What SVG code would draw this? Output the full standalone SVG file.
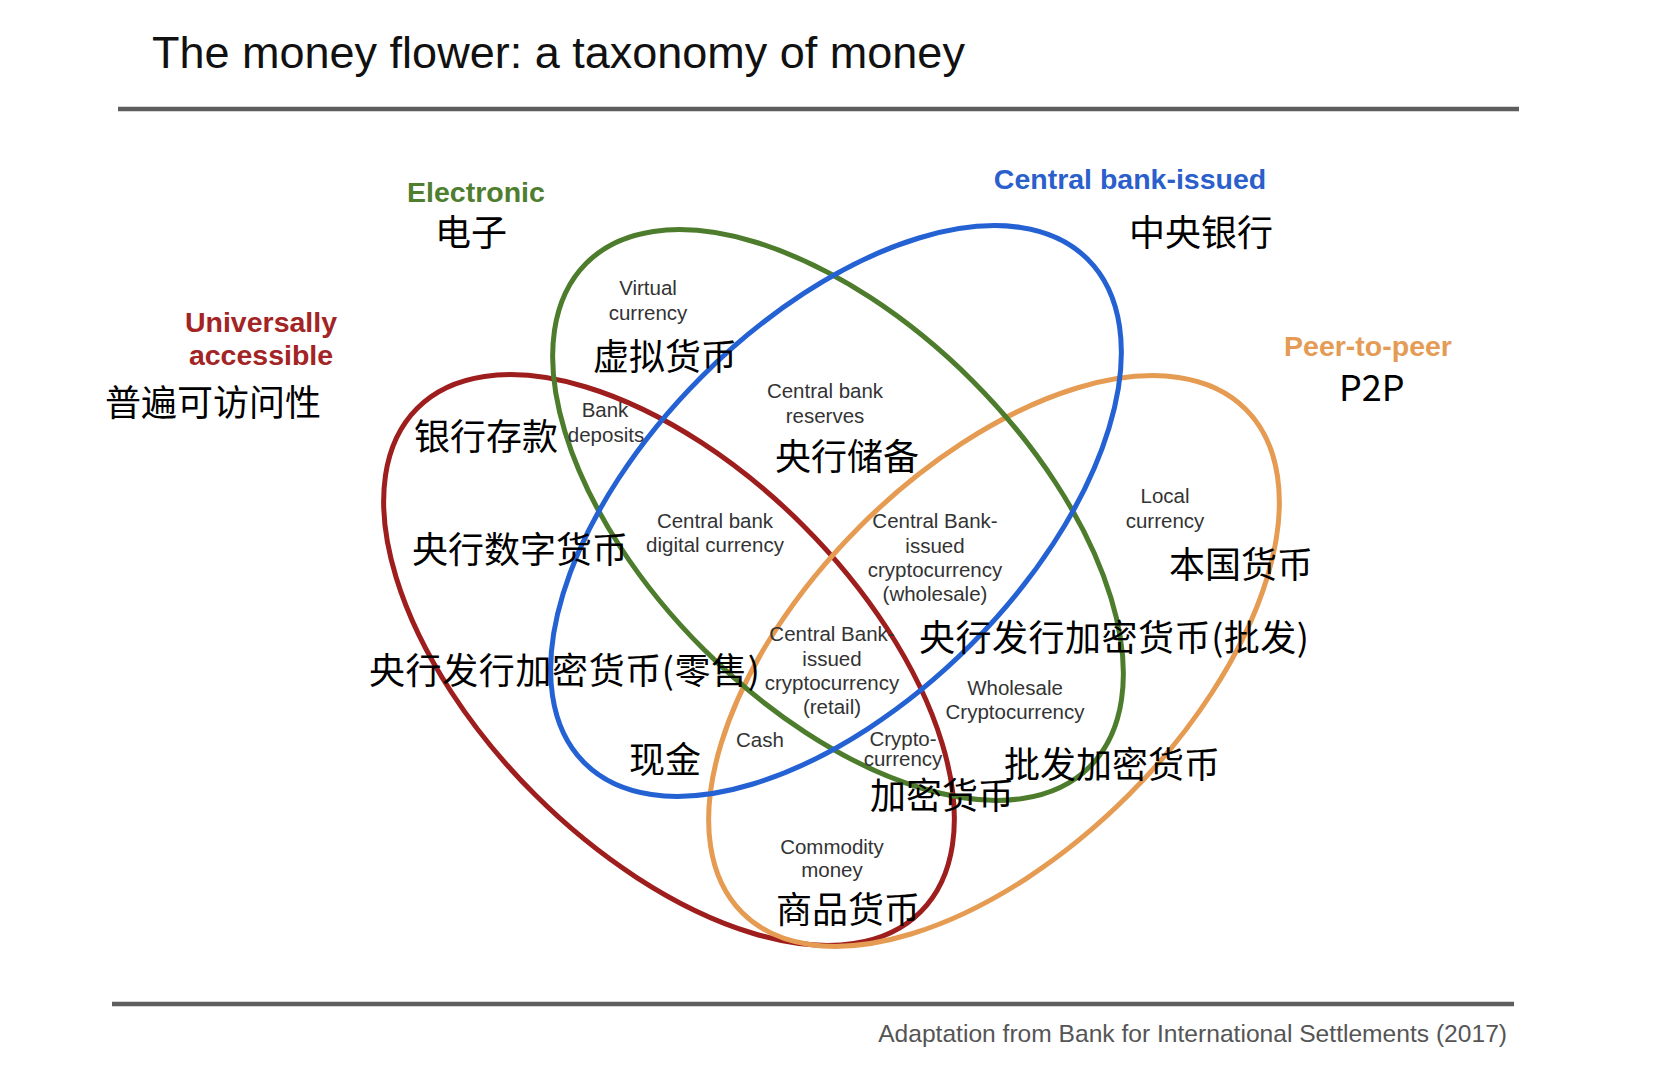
<svg xmlns="http://www.w3.org/2000/svg" width="1672" height="1072" viewBox="0 0 1672 1072">
<style>
.rule{stroke:#5e5e5e;stroke-width:4.5;fill:none}
.ell{fill:none;stroke-width:5}
.cat{font-family:"Liberation Sans",Arial,sans-serif;font-weight:bold;font-size:28.5px;text-anchor:middle}
.sm{font-family:"Liberation Sans",Arial,sans-serif;font-size:20.5px;fill:#333;text-anchor:middle}
.zh{font-family:"Noto Sans CJK SC","Noto Sans",sans-serif;font-size:36px;fill:#000}
</style>
<rect width="1672" height="1072" fill="#fff"/>
<text x="152" y="68" font-family="Liberation Sans,Arial,sans-serif" font-size="45" fill="#111">The money flower: a taxonomy of money</text>
<line class="rule" x1="118" y1="109" x2="1519" y2="109"/>
<line class="rule" x1="112" y1="1004" x2="1514" y2="1004"/>
<text x="1507" y="1042" text-anchor="end" font-family="Liberation Sans,Arial,sans-serif" font-size="24.6" fill="#555">Adaptation from Bank for International Settlements (2017)</text>

<g id="sets">
<ellipse id="universal" class="ell" stroke="#9e1d1d" cx="669" cy="660" rx="356" ry="190" transform="rotate(45 669 660)"/>
<ellipse id="p2p" class="ell" stroke="#e59b52" cx="994" cy="661" rx="356" ry="190" transform="rotate(-45 994 661)"/>
<ellipse id="electronic" class="ell" stroke="#4c7c2c" cx="838" cy="515" rx="356" ry="190" transform="rotate(45 838 515)"/>
<ellipse id="centralbank" class="ell" stroke="#2462d4" cx="836" cy="511" rx="356" ry="190" transform="rotate(-45 836 511)"/>
</g>

<g id="category-labels">
<g id="lbl-electronic"><text class="cat" x="476" y="202" fill="#4e7e2e">Electronic</text><text class="zh" x="435" y="246">电子</text></g>
<g id="lbl-universal"><text class="cat" x="261" y="332" fill="#a32424">Universally</text><text class="cat" x="261" y="365" fill="#a32424">accessible</text><text class="zh" x="105" y="416">普遍可访问性</text></g>
<g id="lbl-central"><text class="cat" x="1130" y="189" fill="#2a5fcc">Central bank-issued</text><text class="zh" x="1129" y="246">中央银行</text></g>
<g id="lbl-p2p"><text class="cat" x="1368" y="356" fill="#e49b55">Peer-to-peer</text><text class="zh" x="1339" y="401" font-size="34">P2P</text></g>
</g>

<g id="regions">
<g id="virtual"><text class="sm" x="648" y="295">Virtual</text><text class="sm" x="648" y="320">currency</text><text class="zh" x="593" y="370">虚拟货币</text></g>
<g id="bank-deposits"><text class="sm" x="605" y="417">Bank</text><text class="sm" x="606" y="442">deposits</text><text class="zh" x="414" y="450">银行存款</text></g>
<g id="cb-reserves"><text class="sm" x="825" y="398">Central bank</text><text class="sm" x="825" y="423">reserves</text><text class="zh" x="775" y="470">央行储备</text></g>
<g id="cbdc"><text class="sm" x="715" y="528">Central bank</text><text class="sm" x="715" y="552">digital currency</text><text class="zh" x="412" y="563">央行数字货币</text></g>
<g id="cbcc-wholesale"><text class="sm" x="935" y="528">Central Bank-</text><text class="sm" x="935" y="553">issued</text><text class="sm" x="935" y="577">cryptocurrency</text><text class="sm" x="935" y="601">(wholesale)</text><text class="zh" x="919" y="651" textLength="390">央行发行加密货币(批发)</text></g>
<g id="local"><text class="sm" x="1165" y="503">Local</text><text class="sm" x="1165" y="528">currency</text><text class="zh" x="1169" y="578">本国货币</text></g>
<g id="cbcc-retail"><text class="sm" x="832" y="641">Central Bank-</text><text class="sm" x="832" y="666">issued</text><text class="sm" x="832" y="690">cryptocurrency</text><text class="sm" x="832" y="714">(retail)</text><text class="zh" x="369" y="684" textLength="391">央行发行加密货币(零售)</text></g>
<g id="wholesale-crypto"><text class="sm" x="1015" y="695">Wholesale</text><text class="sm" x="1015" y="719">Cryptocurrency</text><text class="zh" x="1004" y="778">批发加密货币</text></g>
<g id="cash"><text class="sm" x="760" y="747">Cash</text><text class="zh" x="629" y="773">现金</text></g>
<g id="crypto"><text class="sm" x="903" y="746" font-size="18">Crypto-</text><text class="sm" x="903" y="766" font-size="18">currency</text><text class="zh" x="870" y="809">加密货币</text></g>
<g id="commodity"><text class="sm" x="832" y="854">Commodity</text><text class="sm" x="832" y="877">money</text><text class="zh" x="776" y="923">商品货币</text></g>
</g>
</svg>
